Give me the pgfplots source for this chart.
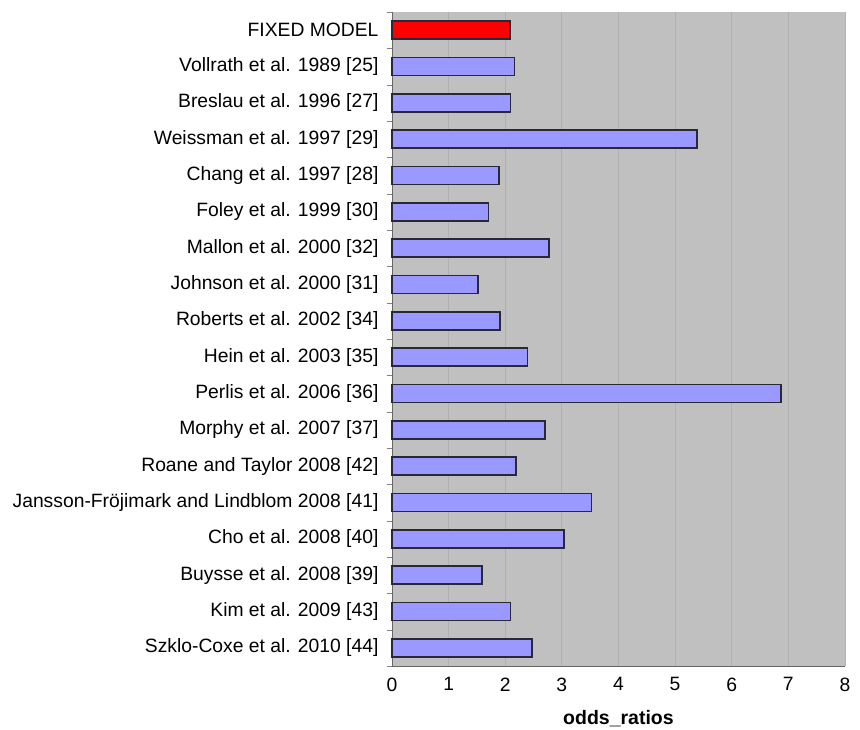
\documentclass[border=0pt]{standalone}
\usepackage{pgfplots}
\pgfplotsset{compat=1.18}
\usepackage{fontspec}
\setmainfont{Liberation Sans}
\definecolor{plotbg}{RGB}{192,192,192}
\definecolor{gridc}{RGB}{176,176,176}
\definecolor{barblue}{RGB}{153,153,255}
\definecolor{baredge}{RGB}{40,40,55}
\begin{document}
\begin{tikzpicture}
\path[use as bounding box] (-392pt,-64pt) rectangle (468pt,666pt);
\begin{axis}[
    at={(0,0)}, anchor=south west,
    scale only axis,
    width=453pt, height=654pt,
    xmin=0, xmax=8, xtick={0,...,8},
    ymin=-0.5, ymax=17.5, y dir=reverse,
    ytick={0,...,17},
    yticklabels={FIXED MODEL, Vollrath et al. 1989 [25], Breslau et al. 1996 [27],
        Weissman et al. 1997 [29], Chang et al. 1997 [28], Foley et al. 1999 [30],
        Mallon et al. 2000 [32], Johnson et al. 2000 [31], Roberts et al. 2002 [34],
        Hein et al. 2003 [35], Perlis et al. 2006 [36], Morphy et al. 2007 [37],
        Roane and Taylor 2008 [42], Jansson-Fröjimark and Lindblom 2008 [41],
        Cho et al. 2008 [40], Buysse et al. 2008 [39], Kim et al. 2009 [43],
        Szklo-Coxe et al. 2010 [44]},
    minor ytick={-0.5,0.5,...,17.5},
    major tick length=0pt, minor tick length=5pt, tick align=outside,
    minor tick style={gray},
    axis x line*=bottom, axis y line*=left,
    axis line style={-, draw=gray!80!black},
    xmajorgrids, major grid style={gridc, line width=0.8pt},
    axis background/.style={fill=plotbg},
    /pgf/number format/assume math mode=true,
    ticklabel style={font=\fontsize{19.3pt}{22pt}\selectfont},
    yticklabel style={xshift=-10pt},
    xticklabel style={yshift=-8pt},
    xlabel={\textbf{odds\_ratios}},
    xlabel style={font=\fontsize{19.5pt}{23pt}\selectfont, yshift=-12pt},
    xbar, bar width=18pt, bar shift=0pt,
    clip=false,
]
\addplot[fill=barblue, draw=baredge, line width=1.5pt] coordinates {
    (2.16,1) (2.09,2) (5.39,3) (1.89,4) (1.70,5) (2.77,6) (1.52,7)
    (1.91,8) (2.39,9) (6.87,10) (2.70,11) (2.19,12) (3.52,13) (3.04,14)
    (1.59,15) (2.09,16) (2.47,17)
};
\addplot[fill=red, draw=baredge, line width=1.5pt] coordinates {(2.08,0)};
\end{axis}
\end{tikzpicture}
\end{document}
